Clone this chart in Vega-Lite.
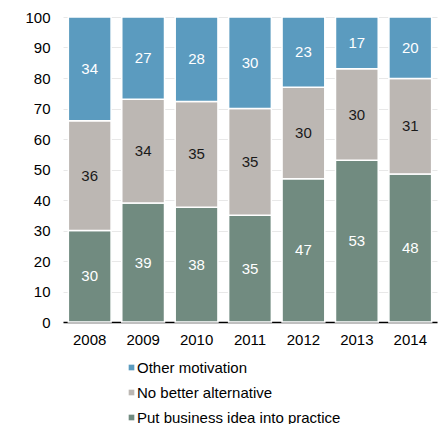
{
  "$schema": "https://vega.github.io/schema/vega-lite/v6.json",
  "width": 374,
  "height": 305,
  "autosize": {"type": "none"},
  "padding": {"left": 63, "top": 17, "right": 6, "bottom": 102},
  "background": "white",
  "config": {
    "font": "Liberation Sans",
    "view": {"stroke": null},
    "axisY": {
      "title": null,
      "values": [0, 0.1, 0.2, 0.3, 0.4, 0.5, 0.6, 0.7, 0.8, 0.9, 1],
      "labelExpr": "round(datum.value * 100)",
      "labelOverlap": false,
      "labelFontSize": 15,
      "labelColor": "#000000",
      "labelPadding": 13,
      "ticks": false,
      "domain": false,
      "gridColor": "#e8e8e8",
      "gridWidth": 1
    }
  },
  "data": {
    "values": [
      {"year": "2008", "category": "Put business idea into practice", "value": 30, "order": 1},
      {"year": "2008", "category": "No better alternative", "value": 36, "order": 2},
      {"year": "2008", "category": "Other motivation", "value": 34, "order": 3},
      {"year": "2009", "category": "Put business idea into practice", "value": 39, "order": 1},
      {"year": "2009", "category": "No better alternative", "value": 34, "order": 2},
      {"year": "2009", "category": "Other motivation", "value": 27, "order": 3},
      {"year": "2010", "category": "Put business idea into practice", "value": 38, "order": 1},
      {"year": "2010", "category": "No better alternative", "value": 35, "order": 2},
      {"year": "2010", "category": "Other motivation", "value": 28, "order": 3},
      {"year": "2011", "category": "Put business idea into practice", "value": 35, "order": 1},
      {"year": "2011", "category": "No better alternative", "value": 35, "order": 2},
      {"year": "2011", "category": "Other motivation", "value": 30, "order": 3},
      {"year": "2012", "category": "Put business idea into practice", "value": 47, "order": 1},
      {"year": "2012", "category": "No better alternative", "value": 30, "order": 2},
      {"year": "2012", "category": "Other motivation", "value": 23, "order": 3},
      {"year": "2013", "category": "Put business idea into practice", "value": 53, "order": 1},
      {"year": "2013", "category": "No better alternative", "value": 30, "order": 2},
      {"year": "2013", "category": "Other motivation", "value": 17, "order": 3},
      {"year": "2014", "category": "Put business idea into practice", "value": 48, "order": 1},
      {"year": "2014", "category": "No better alternative", "value": 31, "order": 2},
      {"year": "2014", "category": "Other motivation", "value": 20, "order": 3}
    ]
  },
  "transform": [
    {"stack": "value", "groupby": ["year"], "sort": [{"field": "order"}], "offset": "normalize", "as": ["v0", "v1"]},
    {"calculate": "(datum.v0 + datum.v1) / 2", "as": "mid"}
  ],
  "encoding": {
    "x": {
      "field": "year",
      "type": "nominal",
      "scale": {"paddingInner": 0.2, "paddingOuter": 0.1},
      "axis": {
        "title": null,
        "labelAngle": 0,
        "labelFontSize": 15,
        "labelColor": "#000000",
        "labelPadding": 10,
        "ticks": false,
        "domainColor": "#000000",
        "domainWidth": 1.5,
        "grid": false
      }
    }
  },
  "layer": [
    {
      "mark": {"type": "bar", "stroke": "white", "strokeWidth": 1.5},
      "encoding": {
        "y": {
          "field": "v0",
          "type": "quantitative",
          "scale": {"domain": [0, 1], "nice": false}
        },
        "y2": {"field": "v1"},
        "color": {
          "field": "category",
          "type": "nominal",
          "scale": {
            "domain": ["Other motivation", "No better alternative", "Put business idea into practice"],
            "range": ["#5b9bbf", "#bcb7b3", "#718b80"]
          },
          "legend": {
            "title": null,
            "orient": "none",
            "legendX": 61,
            "legendY": 343,
            "padding": 0,
            "direction": "vertical",
            "symbolType": "square",
            "symbolSize": 32,
            "symbolStrokeWidth": 0,
            "labelFontSize": 15,
            "labelLimit": 400,
            "labelColor": "#000000",
            "labelOffset": -2,
            "rowPadding": 9
          }
        }
      }
    },
    {
      "mark": {"type": "text", "fontSize": 15, "baseline": "middle", "align": "center"},
      "encoding": {
        "y": {"field": "mid", "type": "quantitative"},
        "text": {"field": "value", "type": "quantitative"},
        "color": {
          "condition": {"test": "datum.category === 'No better alternative'", "value": "#1a1a1a"},
          "value": "#ffffff"
        }
      }
    }
  ]
}
